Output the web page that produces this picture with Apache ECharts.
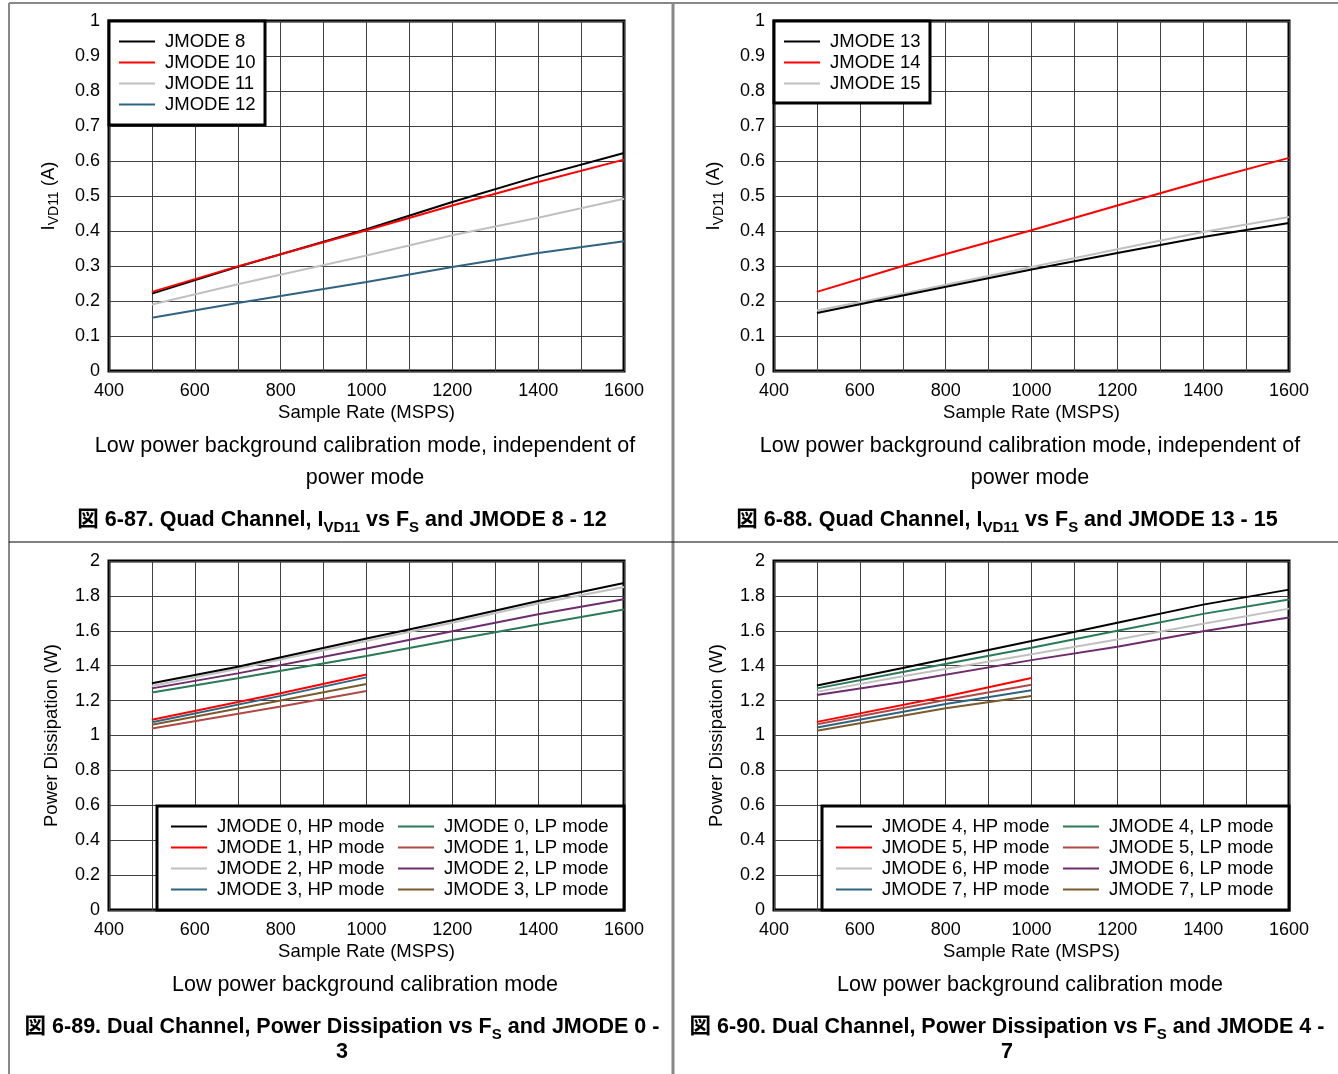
<!DOCTYPE html>
<html>
<head>
<meta charset="utf-8">
<script src="https://cdn.jsdelivr.net/npm/echarts@6/dist/echarts.min.js"></script>
<style>
html,body{margin:0;padding:0;background:#fff;}
#c{width:1338px;height:1074px;}
</style>
</head>
<body>
<div id="c"></div>
<script>
// ---------- DATA ----------
const xTicks = [400, 600, 800, 1000, 1200, 1400, 1600];
const fsLong = [500, 700, 1000, 1200, 1400, 1600];
const fsShort = [500, 800, 1000];

// Fig 6-87 (IVD11, A)
const jmode8  = [0.221, 0.298, 0.405, 0.483, 0.556, 0.623];
const jmode10 = [0.226, 0.299, 0.402, 0.473, 0.540, 0.604];
const jmode11 = [0.190, 0.248, 0.330, 0.388, 0.438, 0.492];
const jmode12 = [0.152, 0.194, 0.254, 0.297, 0.337, 0.371];
// Fig 6-88 (IVD11, A)
const jmode13 = [0.166, 0.216, 0.290, 0.337, 0.383, 0.423];
const jmode14 = [0.226, 0.300, 0.402, 0.473, 0.543, 0.609];
const jmode15 = [0.173, 0.221, 0.297, 0.348, 0.397, 0.440];
// Fig 6-89 (Power, W)
const j0hp = [1.299, 1.394, 1.556, 1.661, 1.771, 1.874];
const j2hp = [1.284, 1.382, 1.541, 1.646, 1.756, 1.851];
const j2lp = [1.270, 1.356, 1.499, 1.598, 1.695, 1.781];
const j0lp = [1.246, 1.328, 1.455, 1.547, 1.636, 1.722];
const j1hp = [1.090, 1.242, 1.350];
const j3hp = [1.076, 1.227, 1.333];
const j3lp = [1.061, 1.200, 1.295];
const j1lp = [1.040, 1.166, 1.255];
// Fig 6-90 (Power, W)
const j4hp = [1.286, 1.387, 1.541, 1.646, 1.750, 1.836];
const j4lp = [1.270, 1.364, 1.503, 1.600, 1.697, 1.780];
const j6hp = [1.250, 1.339, 1.465, 1.550, 1.641, 1.727];
const j6lp = [1.232, 1.307, 1.432, 1.509, 1.598, 1.676];
const j5hp = [1.078, 1.223, 1.330];
const j5lp = [1.065, 1.204, 1.291];
const j7hp = [1.046, 1.180, 1.259];
const j7lp = [1.027, 1.156, 1.227];

const legendTL = ['JMODE 8', 'JMODE 10', 'JMODE 11', 'JMODE 12'];
const legendTR = ['JMODE 13', 'JMODE 14', 'JMODE 15'];
const legendBL1 = ['JMODE 0, HP mode', 'JMODE 1, HP mode', 'JMODE 2, HP mode', 'JMODE 3, HP mode'];
const legendBL2 = ['JMODE 0, LP mode', 'JMODE 1, LP mode', 'JMODE 2, LP mode', 'JMODE 3, LP mode'];
const legendBR1 = ['JMODE 4, HP mode', 'JMODE 5, HP mode', 'JMODE 6, HP mode', 'JMODE 7, HP mode'];
const legendBR2 = ['JMODE 4, LP mode', 'JMODE 5, LP mode', 'JMODE 6, LP mode', 'JMODE 7, LP mode'];

// ---------- STYLE ----------
const C = {
  black: '#000000', red: '#ff0000', gray: '#c0c0c0', blue: '#2f6480',
  green: '#2a7a57', dred: '#b04846', purple: '#6e2c6e', brown: '#7b5a2d'
};
const FONT = '"Liberation Sans", Arial, Helvetica, sans-serif';
const TICK = 18, NAME = 18.5, LEG = 18.5, SUB = 21.5, CAP = 21.5;

function mk(name, xs, ys, color, idx) {
  return {
    name, type: 'line', xAxisIndex: idx, yAxisIndex: idx,
    data: xs.map((x, i) => [x, ys[i]]),
    showSymbol: false, symbol: 'none', smooth: false,
    lineStyle: { color, width: 2 }, itemStyle: { color }, z: 3
  };
}

const series = [
  mk('JMODE 8', fsLong, jmode8, C.black, 0),
  mk('JMODE 10', fsLong, jmode10, C.red, 0),
  mk('JMODE 11', fsLong, jmode11, C.gray, 0),
  mk('JMODE 12', fsLong, jmode12, C.blue, 0),

  mk('JMODE 15', fsLong, jmode15, C.gray, 1),
  mk('JMODE 13', fsLong, jmode13, C.black, 1),
  mk('JMODE 14', fsLong, jmode14, C.red, 1),

  mk('JMODE 0, LP mode', fsLong, j0lp, C.green, 2),
  mk('JMODE 2, LP mode', fsLong, j2lp, C.purple, 2),
  mk('JMODE 2, HP mode', fsLong, j2hp, C.gray, 2),
  mk('JMODE 0, HP mode', fsLong, j0hp, C.black, 2),
  mk('JMODE 1, LP mode', fsShort, j1lp, C.dred, 2),
  mk('JMODE 3, LP mode', fsShort, j3lp, C.brown, 2),
  mk('JMODE 3, HP mode', fsShort, j3hp, C.blue, 2),
  mk('JMODE 1, HP mode', fsShort, j1hp, C.red, 2),

  mk('JMODE 6, LP mode', fsLong, j6lp, C.purple, 3),
  mk('JMODE 6, HP mode', fsLong, j6hp, C.gray, 3),
  mk('JMODE 4, LP mode', fsLong, j4lp, C.green, 3),
  mk('JMODE 4, HP mode', fsLong, j4hp, C.black, 3),
  mk('JMODE 7, LP mode', fsShort, j7lp, C.brown, 3),
  mk('JMODE 7, HP mode', fsShort, j7hp, C.blue, 3),
  mk('JMODE 5, LP mode', fsShort, j5lp, C.dred, 3),
  mk('JMODE 5, HP mode', fsShort, j5hp, C.red, 3)
];

const grids = [
  { left: 109, top: 21, width: 515, height: 350 },
  { left: 774, top: 21, width: 515, height: 350 },
  { left: 109, top: 561, width: 515, height: 349 },
  { left: 774, top: 561, width: 515, height: 349 }
].map(g => Object.assign(g, { show: true, borderColor: '#000', borderWidth: 3, backgroundColor: 'transparent' }));

const gridLine = { show: true, lineStyle: { color: '#404040', width: 1 } };

const xAxes = [0, 1, 2, 3].map(i => ({
  type: 'value', gridIndex: i, min: xTicks[0], max: xTicks[xTicks.length - 1], interval: 200,
  name: 'Sample Rate (MSPS)', nameLocation: 'middle', nameGap: 32,
  nameTextStyle: { fontFamily: FONT, fontSize: NAME, color: '#000' },
  axisLine: { show: false }, axisTick: { show: false },
  axisLabel: { fontFamily: FONT, fontSize: TICK, color: '#000', margin: 11, formatter: v => String(v) },
  splitLine: gridLine,
  minorTick: { show: false, splitNumber: 2 },
  minorSplitLine: gridLine
}));

const yNameTop = '{i|I}{s|VD11}{i| (A)}';
const yAxes = [0, 1, 2, 3].map(i => ({
  type: 'value', gridIndex: i, min: 0, max: i < 2 ? 1 : 2, interval: i < 2 ? 0.1 : 0.2,
  name: i < 2 ? yNameTop : 'Power Dissipation (W)', nameLocation: 'middle', nameGap: 48,
  nameRotate: 90,
  nameTextStyle: {
    fontFamily: FONT, fontSize: NAME, color: '#000',
    rich: {
      i: { fontFamily: FONT, fontSize: NAME, color: '#000', lineHeight: 24, verticalAlign: 'middle' },
      s: { fontFamily: FONT, fontSize: 14, color: '#000', lineHeight: 14, verticalAlign: 'bottom' }
    }
  },
  axisLine: { show: false }, axisTick: { show: false },
  axisLabel: { fontFamily: FONT, fontSize: TICK, color: '#000', margin: 9 },
  splitLine: gridLine
}));

function legend(data, left, top) {
  return {
    data, left, top, orient: 'vertical', itemGap: 0, padding: 0,
    icon: 'rect', itemWidth: 36, itemHeight: 2, z: 20,
    selectedMode: false,
    textStyle: { fontFamily: FONT, fontSize: LEG, color: '#000', lineHeight: 21, padding: [0, 0, 0, 5] }
  };
}

const legends = [
  legend(legendTL, 119, 31),
  legend(legendTR, 784, 31),
  legend(legendBL1, 171, 816),
  legend(legendBL2, 398, 816),
  legend(legendBR1, 836, 816),
  legend(legendBR2, 1063, 816)
];

function box(x, y, w, h) {
  return { type: 'rect', z: 10, shape: { x, y, width: w, height: h },
    style: { fill: '#fff', stroke: '#000', lineWidth: 3 } };
}
function line(x1, y1, x2, y2, color, w) {
  return { type: 'line', z: 1, shape: { x1, y1, x2, y2 }, style: { stroke: color, lineWidth: w } };
}
function txt(x, y, text, size, bold) {
  return { type: 'text', z: 5, x, y,
    style: { text, fill: '#000', font: (bold ? 'bold ' : '') + size + 'px ' + FONT,
      textAlign: 'center', textVerticalAlign: 'middle' } };
}
function caption(x, y, parts) {
  return { type: 'text', z: 5, x, y,
    style: {
      text: parts, textAlign: 'center', textVerticalAlign: 'middle',
      rich: {
        b: { fontFamily: FONT + ', "Noto Sans CJK JP"', fontWeight: 'bold', fontSize: CAP, lineHeight: 30, verticalAlign: 'middle', fill: '#000' },
        s: { fontFamily: FONT, fontWeight: 'bold', fontSize: 15, lineHeight: 16, verticalAlign: 'bottom', fill: '#000' }
      }
    } };
}

const graphics = [
  line(9, 3, 1338, 3, '#888', 2),
  line(9, 3, 9, 1074, '#888', 2),
  line(673, 3, 673, 1074, '#888', 3),
  line(9, 542, 1338, 542, '#000', 1),
  box(109, 21, 156, 104),
  box(774, 21, 156, 82),
  box(157, 806, 467, 104),
  box(822, 806, 467, 104),
  txt(365, 446, 'Low power background calibration mode, independent of', SUB, false),
  txt(365, 478, 'power mode', SUB, false),
  txt(1030, 446, 'Low power background calibration mode, independent of', SUB, false),
  txt(1030, 478, 'power mode', SUB, false),
  txt(365, 985, 'Low power background calibration mode', SUB, false),
  txt(1030, 985, 'Low power background calibration mode', SUB, false),
  caption(342, 520, '{b|図 6-87. Quad Channel, I}{s|VD11}{b| vs F}{s|S}{b| and JMODE 8 - 12}'),
  caption(1007, 520, '{b|図 6-88. Quad Channel, I}{s|VD11}{b| vs F}{s|S}{b| and JMODE 13 - 15}'),
  caption(342, 1027, '{b|図 6-89. Dual Channel, Power Dissipation vs F}{s|S}{b| and JMODE 0 -}'),
  caption(342, 1052, '{b|3}'),
  caption(1007, 1027, '{b|図 6-90. Dual Channel, Power Dissipation vs F}{s|S}{b| and JMODE 4 -}'),
  caption(1007, 1052, '{b|7}')
];

const chart = echarts.init(document.getElementById('c'), null, { renderer: 'canvas' });
chart.setOption({
  backgroundColor: '#fff',
  animation: false,
  grid: grids,
  xAxis: xAxes,
  yAxis: yAxes,
  legend: legends,
  series,
  graphic: graphics
});
</script>
</body>
</html>
